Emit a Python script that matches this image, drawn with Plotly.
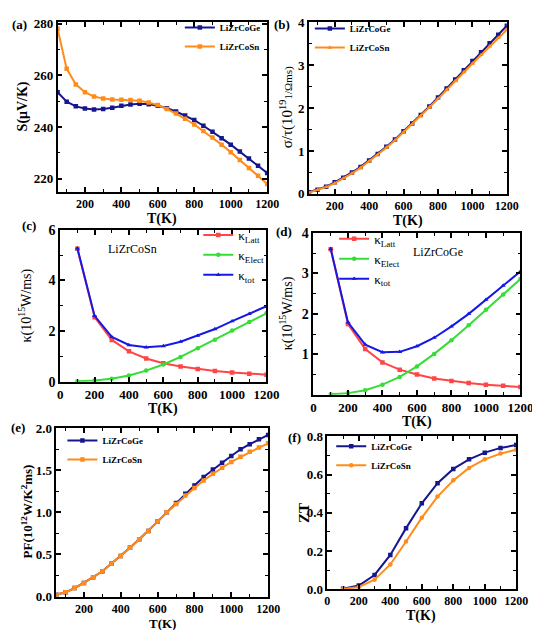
import plotly.graph_objects as go

# ---------------- data ----------------
T50 = [50, 100, 150, 200, 250, 300, 350, 400, 450, 500, 550, 600, 650, 700, 750,
       800, 850, 900, 950, 1000, 1050, 1100, 1150, 1200]
T100 = [100, 200, 300, 400, 500, 600, 700, 800, 900, 1000, 1100, 1200]

S_Ge = [253.5, 249.8, 248.0, 247.2, 246.8, 247.0, 247.5, 248.2, 248.7, 249.0, 248.8, 248.2,
        247.3, 246.0, 244.5, 242.7, 240.5, 238.2, 235.7, 233.2, 230.5, 227.8, 225.0, 222.2]
S_Sn = [278.0, 262.5, 256.5, 253.5, 251.8, 251.0, 250.7, 250.6, 250.5, 250.2, 249.5, 248.5,
        247.0, 245.2, 243.2, 241.0, 238.5, 236.0, 233.2, 230.3, 227.3, 224.2, 221.2, 218.0]

sig_Ge = [0.04, 0.10, 0.17, 0.27, 0.38, 0.50, 0.63, 0.78, 0.93, 1.10, 1.27, 1.46,
          1.64, 1.84, 2.04, 2.25, 2.46, 2.67, 2.88, 3.10, 3.30, 3.51, 3.71, 3.92]
sig_Sn = [0.03, 0.09, 0.16, 0.25, 0.36, 0.48, 0.61, 0.76, 0.91, 1.08, 1.25, 1.44,
          1.62, 1.82, 2.02, 2.22, 2.43, 2.63, 2.84, 3.04, 3.24, 3.44, 3.64, 3.83]

kL_Sn = [5.25, 2.55, 1.65, 1.20, 0.92, 0.73, 0.60, 0.50, 0.42, 0.37, 0.32, 0.28]
kE_Sn = [0.02, 0.05, 0.12, 0.25, 0.44, 0.68, 0.98, 1.32, 1.66, 2.02, 2.36, 2.70]
kT_Sn = [5.27, 2.60, 1.77, 1.45, 1.36, 1.41, 1.58, 1.82, 2.08, 2.39, 2.68, 2.98]

kL_Ge = [3.60, 1.75, 1.13, 0.80, 0.62, 0.50, 0.40, 0.34, 0.29, 0.25, 0.22, 0.19]
kE_Ge = [0.01, 0.04, 0.11, 0.25, 0.44, 0.70, 1.01, 1.35, 1.72, 2.10, 2.48, 2.86]
kT_Ge = [3.61, 1.79, 1.24, 1.05, 1.06, 1.20, 1.41, 1.69, 2.00, 2.35, 2.70, 3.05]

PF_Ge = [0.02, 0.05, 0.10, 0.16, 0.23, 0.30, 0.39, 0.48, 0.58, 0.68, 0.78, 0.89,
         1.00, 1.11, 1.22, 1.32, 1.42, 1.51, 1.59, 1.67, 1.75, 1.81, 1.87, 1.92]
PF_Sn = [0.02, 0.05, 0.10, 0.16, 0.23, 0.30, 0.39, 0.48, 0.58, 0.68, 0.78, 0.89,
         1.00, 1.10, 1.20, 1.29, 1.38, 1.46, 1.53, 1.60, 1.66, 1.72, 1.77, 1.82]

ZT_Ge = [0.003, 0.02, 0.075, 0.18, 0.32, 0.45, 0.555, 0.63, 0.68, 0.715, 0.74, 0.755]
ZT_Sn = [0.002, 0.012, 0.05, 0.13, 0.25, 0.375, 0.485, 0.57, 0.635, 0.68, 0.71, 0.73]

# ---------------- style ----------------
NAVY = "#16168E"
ORANGE = "#FF8C1A"
RED = "#FF4545"
GREEN = "#35DD35"
BLUE = "#1818E6"
SERIF = "Liberation Serif"

fig = go.Figure()


def add(x, y, name, color, symbol, xa, ya, legend):
    fig.add_trace(go.Scatter(
        x=x, y=y, name=name, mode="lines+markers",
        line=dict(color=color, width=2),
        marker=dict(color=color, symbol=symbol, size=4.5),
        xaxis=xa, yaxis=ya, legend=legend))


add(T50, S_Ge, "LiZrCoGe", NAVY, "square", "x", "y", "legend")
add(T50, S_Sn, "LiZrCoSn", ORANGE, "square", "x", "y", "legend")
add(T50, sig_Ge, "LiZrCoGe", NAVY, "square", "x2", "y2", "legend2")
add(T50, sig_Sn, "LiZrCoSn", ORANGE, "triangle-up", "x2", "y2", "legend2")
add(T100, kL_Sn, "κ<sub>Latt</sub>", RED, "square", "x3", "y3", "legend3")
add(T100, kE_Sn, "κ<sub>Elect</sub>", GREEN, "circle", "x3", "y3", "legend3")
add(T100, kT_Sn, "κ<sub>tot</sub>", BLUE, "triangle-up", "x3", "y3", "legend3")
add(T100, kL_Ge, "κ<sub>Latt</sub>", RED, "square", "x4", "y4", "legend4")
add(T100, kE_Ge, "κ<sub>Elect</sub>", GREEN, "circle", "x4", "y4", "legend4")
add(T100, kT_Ge, "κ<sub>tot</sub>", BLUE, "triangle-up", "x4", "y4", "legend4")
add(T50, PF_Ge, "LiZrCoGe", NAVY, "square", "x5", "y5", "legend5")
add(T50, PF_Sn, "LiZrCoSn", ORANGE, "square", "x5", "y5", "legend5")
add(T100, ZT_Ge, "LiZrCoGe", NAVY, "square", "x6", "y6", "legend6")
add(T100, ZT_Sn, "LiZrCoSn", ORANGE, "circle", "x6", "y6", "legend6")

W, H = 540, 630


def px(xp):
    return xp / W


def py(yp):
    return 1 - yp / H


def axis(domain, rng, dtick, minor_dtick, anchor, tickvals=None, fmt=None, fs=13):
    d = dict(domain=domain, range=rng, anchor=anchor, showline=True, linecolor="black",
             linewidth=1.6, mirror="ticks", ticks="inside", ticklen=5, tickwidth=1.5,
             tickcolor="black", showgrid=False, zeroline=False,
             tickfont=dict(family=SERIF, size=fs, color="black", weight="bold"),
             dtick=dtick, minor=dict(ticks="inside", ticklen=3, tickwidth=1.2,
                                     tickcolor="black", dtick=minor_dtick))
    if tickvals is not None:
        d["tickvals"] = tickvals
        d["tickmode"] = "array"
    if fmt:
        d["tickformat"] = fmt
    return d


xt200 = [200, 400, 600, 800, 1000, 1200]
xt0 = [0, 200, 400, 600, 800, 1000, 1200]

fig.update_layout(
    xaxis=axis([px(48), px(264)], [50, 1200], 200, 100, "y", xt200, fs=12),
    yaxis=axis([py(181), py(7.5)], [215, 280.5], 20, 10, "x", [220, 240, 260, 280]),
    xaxis2=axis([px(307), px(511)], [50, 1200], 200, 100, "y2", xt200, fs=12),
    yaxis2=axis([py(183.3), py(7.5)], [0, 4], 1, 0.5, "x2", [0, 1, 2, 3, 4]),
    xaxis3=axis([px(50.7), px(263.3)], [0, 1200], 200, 100, "y3", xt0, fs=13),
    yaxis3=axis([py(375.7), py(220)], [0, 6], 2, 1, "x3", [0, 2, 4, 6], fs=14),
    xaxis4=axis([px(311.7), px(525)], [0, 1200], 200, 100, "y4", xt0, fs=13),
    yaxis4=axis([py(389), py(223.3)], [0, 4], 1, 0.5, "x4", [1, 2, 3, 4], fs=14),
    xaxis5=axis([px(46.7), px(265)], [50, 1200], 200, 100, "y5", xt200, fs=12),
    yaxis5=axis([py(595.7), py(423.3)], [0, 2], 0.5, 0.25, "x5", [0, 0.5, 1, 1.5, 2], ".1f"),
    xaxis6=axis([px(326), px(520.7)], [0, 1200], 200, 100, "y6", xt0, fs=12),
    yaxis6=axis([py(588.3), py(431.7)], [0, 0.8], 0.2, 0.1, "x6", [0, 0.2, 0.4, 0.6, 0.8], ".1f"),
    width=W, height=H, margin=dict(l=0, r=0, t=0, b=0),
    plot_bgcolor="white", paper_bgcolor="white",
    font=dict(family=SERIF, color="black"),
)

small_leg = dict(family=SERIF, size=9, color="black", weight="bold")
kap_leg = dict(family=SERIF, size=13, color="black")


def leg(x, y, font):
    return dict(x=x, y=y, xref="paper", yref="paper", xanchor="left", yanchor="top",
                bgcolor="rgba(0,0,0,0)", font=font, tracegroupgap=0, itemwidth=30)


fig.update_layout(
    legend=leg(px(174), py(-2), small_leg),
    legend2=leg(px(308), py(-1), small_leg),
    legend3=leg(px(193), py(210), kap_leg),
    legend4=leg(px(333), py(214), kap_leg),
    legend5=leg(px(53), py(421), small_leg),
    legend6=leg(px(330), py(427), small_leg),
)

ann = []


def text(x, y, t, size=14, angle=0, bold=True, xanchor="center"):
    ann.append(dict(x=px(x), y=py(y), xref="paper", yref="paper", text=t, showarrow=False,
                    textangle=angle, xanchor=xanchor, yanchor="middle",
                    font=dict(family=SERIF, size=size, color="black",
                              weight="bold" if bold else "normal")))


# panel labels
text(9, 10, "(a)", 13)
text(279, 10, "(b)", 13)
text(19, 216, "(c)", 13)
text(281, 222, "(d)", 13)
text(7, 423, "(e)", 13)
text(292, 433, "(f)", 13)

# x titles
text(156, 209, "T(K)", 14)
text(409, 211, "T(K)", 14)
text(157, 404, "T(K)", 14)
text(418, 417, "T(K)", 14)
text(156, 623, "T(K)", 13)
text(423, 616, "T(K)", 14)

# y titles
text(12, 94, "S(μV/K)", 14, -90)
text(284, 95, "σ/τ(10<sup>19</sup><span style='font-size:11px'>1/Ωms)</span>", 15, -90, bold=False)
text(15, 298, "κ(10<sup>15</sup>W/ms)", 14, -90, bold=False)
text(284, 306, "κ(10<sup>15</sup>W/ms)", 14, -90, bold=False)
text(16, 509, "PF(10<sup>12</sup>W/K<sup>2</sup>ms)", 13, -90)
text(302, 510, "ZT", 15, -90)

# compound labels
text(125, 240, "LiZrCoSn", 12, bold=False)
text(440, 243, "LiZrCoGe", 12, bold=False)

fig.update_layout(annotations=ann)

fig.write_html("out.html")
